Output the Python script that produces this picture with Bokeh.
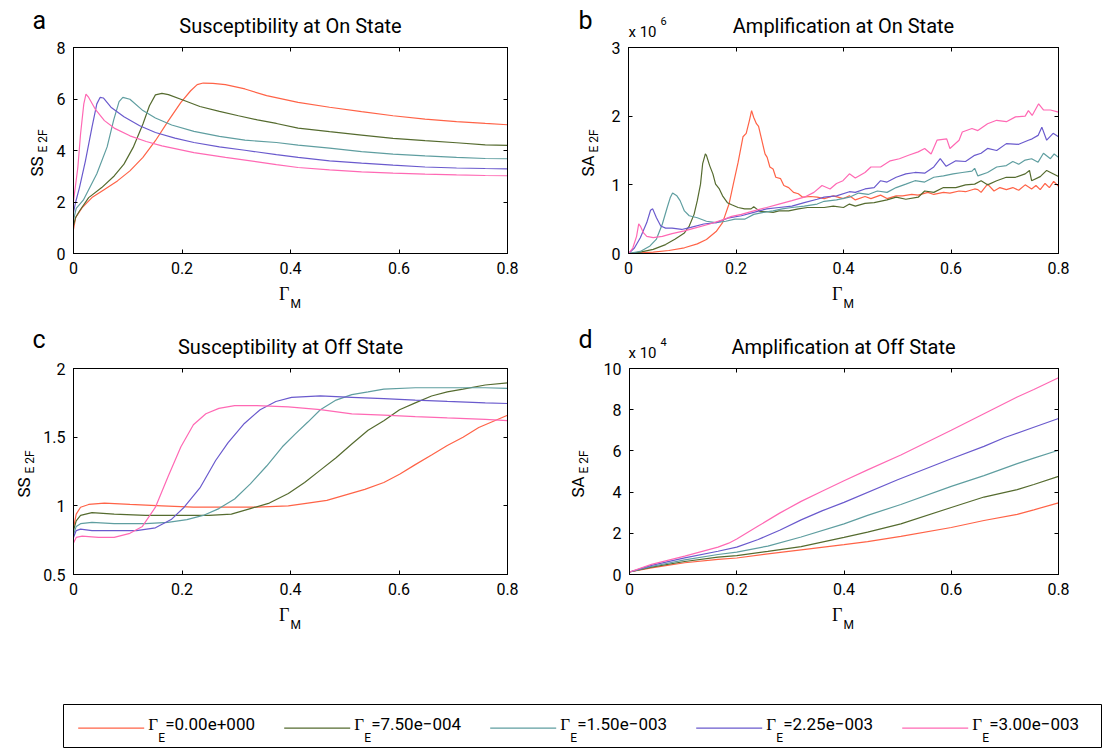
from bokeh.plotting import figure
from bokeh.models import Range1d, LinearAxis, FixedTicker
from bokeh.layouts import column, row
from bokeh.embed import file_html
from bokeh.resources import INLINE
from bokeh.core.properties import value

SANS = "Roboto"
SERIF = "Liberation Serif"

series_colors = ["tomato", "darkolivegreen", "cadetblue", "slateblue", "hotpink"]
gamma_E = [0.0, 7.5e-4, 1.5e-3, 2.25e-3, 3.0e-3]

x_ticks = [0, 0.2, 0.4, 0.6, 0.8]
ss_on_ticks = [0, 2, 4, 6, 8]
sa_on_ticks = [0, 1, 2, 3]
ss_off_ticks = [0.5, 1, 1.5, 2]
sa_off_ticks = [0, 2, 4, 6, 8, 10]

# ---------------- a: Susceptibility at On State ----------------
ss_on_x0 = [0, 0.004, 0.016, 0.034, 0.057, 0.081, 0.104, 0.128, 0.151, 0.175, 0.198, 0.216, 0.228, 0.239, 0.257, 0.28, 0.316, 0.356, 0.414, 0.472, 0.531, 0.589, 0.648, 0.706, 0.759, 0.8]
ss_on_y0 = [0.94, 1.4, 1.78, 2.17, 2.49, 2.82, 3.21, 3.73, 4.38, 5.16, 5.87, 6.32, 6.56, 6.62, 6.61, 6.56, 6.39, 6.13, 5.87, 5.68, 5.51, 5.35, 5.22, 5.12, 5.05, 5.0]
ss_on_x1 = [0, 0.004, 0.011, 0.028, 0.052, 0.075, 0.093, 0.110, 0.128, 0.140, 0.151, 0.163, 0.175, 0.204, 0.233, 0.269, 0.304, 0.339, 0.374, 0.414, 0.472, 0.531, 0.589, 0.648, 0.706, 0.759, 0.8]
ss_on_y1 = [1.09, 1.4, 1.65, 2.17, 2.56, 3.01, 3.47, 4.12, 5.03, 5.74, 6.16, 6.22, 6.17, 5.94, 5.71, 5.52, 5.35, 5.19, 5.05, 4.87, 4.73, 4.6, 4.47, 4.38, 4.3, 4.22, 4.2]
ss_on_x2 = [0, 0.005, 0.018, 0.043, 0.062, 0.074, 0.084, 0.091, 0.104, 0.128, 0.151, 0.181, 0.222, 0.269, 0.316, 0.374, 0.414, 0.472, 0.531, 0.589, 0.648, 0.706, 0.759, 0.8]
ss_on_y2 = [1.3, 1.75, 2.07, 3.1, 4.14, 5.18, 5.9, 6.06, 5.99, 5.55, 5.26, 4.99, 4.74, 4.55, 4.40, 4.31, 4.21, 4.09, 3.96, 3.86, 3.79, 3.73, 3.69, 3.68]
ss_on_x3 = [0, 0.004, 0.011, 0.022, 0.034, 0.043, 0.049, 0.055, 0.069, 0.093, 0.122, 0.151, 0.187, 0.222, 0.269, 0.316, 0.374, 0.414, 0.472, 0.531, 0.589, 0.648, 0.706, 0.759, 0.8]
ss_on_y3 = [1.6, 2.0, 2.56, 3.6, 4.9, 5.81, 6.06, 6.04, 5.68, 5.31, 4.96, 4.70, 4.48, 4.31, 4.14, 4.01, 3.84, 3.73, 3.6, 3.51, 3.43, 3.36, 3.32, 3.30, 3.29]
ss_on_x4 = [0, 0.008, 0.013, 0.019, 0.023, 0.028, 0.040, 0.057, 0.075, 0.104, 0.134, 0.163, 0.222, 0.280, 0.339, 0.374, 0.414, 0.472, 0.531, 0.589, 0.648, 0.706, 0.759, 0.8]
ss_on_y4 = [2.04, 3.34, 4.64, 5.81, 6.19, 6.06, 5.61, 5.16, 4.87, 4.57, 4.35, 4.18, 3.92, 3.73, 3.56, 3.45, 3.34, 3.25, 3.17, 3.12, 3.08, 3.05, 3.03, 3.02]

# ---------------- b: Amplification at On State (x 10^6) ----------------
sa_on_x0 = [0, 0.046, 0.075, 0.104, 0.128, 0.145, 0.163, 0.175, 0.187, 0.195, 0.204, 0.213, 0.219, 0.225, 0.229, 0.233, 0.238, 0.242, 0.248, 0.254, 0.258, 0.263, 0.269, 0.274, 0.283, 0.289, 0.298, 0.307, 0.316, 0.324, 0.339, 0.351, 0.364, 0.381, 0.4, 0.411, 0.422, 0.44, 0.451, 0.469, 0.481, 0.498, 0.51, 0.527, 0.539, 0.557, 0.568, 0.586, 0.598, 0.615, 0.627, 0.644, 0.65, 0.656, 0.668, 0.68, 0.691, 0.703, 0.715, 0.726, 0.738, 0.75, 0.758, 0.766, 0.775, 0.783, 0.791, 0.8]
sa_on_y0 = [0, 0.02, 0.044, 0.083, 0.14, 0.205, 0.32, 0.45, 0.72, 1.01, 1.33, 1.70, 1.75, 1.94, 2.08, 1.98, 1.89, 1.85, 1.65, 1.45, 1.40, 1.26, 1.23, 1.11, 1.09, 0.99, 0.96, 0.89, 0.87, 0.82, 0.83, 0.82, 0.80, 0.84, 0.80, 0.84, 0.78, 0.83, 0.80, 0.85, 0.80, 0.84, 0.84, 0.86, 0.85, 0.89, 0.86, 0.89, 0.88, 0.91, 0.90, 0.94, 0.93, 0.89, 1.01, 0.91, 0.96, 0.93, 0.96, 0.92, 1.00, 0.94, 0.99, 0.93, 1.02, 0.96, 1.05, 0.98]
sa_on_x1 = [0, 0.022, 0.046, 0.069, 0.087, 0.104, 0.113, 0.122, 0.128, 0.134, 0.138, 0.143, 0.145, 0.151, 0.157, 0.162, 0.169, 0.175, 0.184, 0.192, 0.204, 0.216, 0.228, 0.233, 0.245, 0.257, 0.269, 0.28, 0.298, 0.316, 0.333, 0.351, 0.364, 0.381, 0.4, 0.411, 0.422, 0.44, 0.457, 0.481, 0.498, 0.516, 0.539, 0.551, 0.568, 0.586, 0.609, 0.627, 0.644, 0.656, 0.668, 0.685, 0.703, 0.72, 0.738, 0.746, 0.75, 0.766, 0.778, 0.788, 0.8]
sa_on_y1 = [0, 0.02, 0.06, 0.13, 0.21, 0.30, 0.40, 0.57, 0.77, 1.01, 1.31, 1.45, 1.43, 1.28, 1.16, 1.01, 0.94, 0.84, 0.74, 0.71, 0.67, 0.65, 0.65, 0.68, 0.61, 0.61, 0.60, 0.62, 0.62, 0.65, 0.67, 0.67, 0.67, 0.69, 0.67, 0.72, 0.69, 0.73, 0.74, 0.78, 0.82, 0.79, 0.82, 0.91, 0.89, 0.96, 0.96, 1.00, 1.01, 1.06, 1.00, 1.06, 1.11, 1.11, 1.16, 1.21, 1.06, 1.12, 1.21, 1.17, 1.12]
sa_on_x2 = [0, 0.022, 0.040, 0.052, 0.063, 0.072, 0.078, 0.082, 0.090, 0.096, 0.104, 0.113, 0.128, 0.145, 0.163, 0.181, 0.198, 0.216, 0.233, 0.251, 0.269, 0.286, 0.304, 0.327, 0.351, 0.364, 0.387, 0.411, 0.428, 0.446, 0.463, 0.481, 0.498, 0.516, 0.533, 0.551, 0.568, 0.586, 0.604, 0.621, 0.639, 0.644, 0.65, 0.668, 0.685, 0.703, 0.715, 0.726, 0.738, 0.75, 0.762, 0.772, 0.785, 0.792, 0.8]
sa_on_y2 = [0, 0.03, 0.11, 0.21, 0.43, 0.67, 0.82, 0.88, 0.84, 0.77, 0.62, 0.55, 0.52, 0.47, 0.45, 0.47, 0.50, 0.50, 0.57, 0.60, 0.62, 0.65, 0.67, 0.69, 0.72, 0.76, 0.78, 0.82, 0.88, 0.86, 0.91, 0.89, 0.96, 1.01, 1.06, 1.04, 1.11, 1.13, 1.16, 1.18, 1.20, 1.24, 1.13, 1.18, 1.26, 1.28, 1.34, 1.30, 1.36, 1.38, 1.33, 1.46, 1.38, 1.45, 1.40]
sa_on_x3 = [0, 0.011, 0.022, 0.034, 0.041, 0.045, 0.052, 0.060, 0.069, 0.081, 0.099, 0.116, 0.140, 0.163, 0.187, 0.210, 0.233, 0.257, 0.280, 0.304, 0.327, 0.351, 0.364, 0.387, 0.411, 0.422, 0.44, 0.457, 0.469, 0.481, 0.498, 0.516, 0.533, 0.551, 0.568, 0.58, 0.591, 0.609, 0.627, 0.644, 0.656, 0.668, 0.685, 0.703, 0.726, 0.744, 0.751, 0.762, 0.769, 0.778, 0.79, 0.8]
sa_on_y3 = [0, 0.08, 0.23, 0.45, 0.63, 0.65, 0.52, 0.40, 0.37, 0.37, 0.35, 0.38, 0.43, 0.45, 0.52, 0.55, 0.60, 0.65, 0.67, 0.69, 0.74, 0.79, 0.82, 0.84, 0.90, 0.89, 0.94, 0.96, 1.06, 1.04, 1.11, 1.16, 1.18, 1.17, 1.26, 1.38, 1.27, 1.35, 1.34, 1.43, 1.46, 1.53, 1.50, 1.60, 1.59, 1.65, 1.67, 1.72, 1.84, 1.65, 1.75, 1.70]
sa_on_x4 = [0, 0.008, 0.015, 0.019, 0.022, 0.028, 0.034, 0.046, 0.063, 0.081, 0.104, 0.128, 0.151, 0.175, 0.192, 0.210, 0.233, 0.257, 0.280, 0.304, 0.327, 0.345, 0.360, 0.375, 0.387, 0.399, 0.411, 0.422, 0.44, 0.451, 0.469, 0.487, 0.504, 0.521, 0.539, 0.551, 0.563, 0.574, 0.592, 0.598, 0.615, 0.621, 0.639, 0.65, 0.668, 0.685, 0.703, 0.72, 0.738, 0.744, 0.751, 0.763, 0.772, 0.785, 0.8]
sa_on_y4 = [0, 0.08, 0.25, 0.43, 0.40, 0.30, 0.25, 0.23, 0.25, 0.29, 0.33, 0.38, 0.43, 0.49, 0.54, 0.57, 0.62, 0.67, 0.72, 0.77, 0.82, 0.89, 0.99, 0.94, 1.02, 1.06, 1.16, 1.10, 1.18, 1.26, 1.26, 1.35, 1.38, 1.43, 1.48, 1.53, 1.45, 1.65, 1.67, 1.53, 1.65, 1.77, 1.82, 1.79, 1.89, 1.94, 1.92, 1.99, 2.00, 2.08, 2.01, 2.18, 2.09, 2.09, 2.06]

# ---------------- c: Susceptibility at Off State ----------------
ss_off_x0 = [0, 0.005, 0.013, 0.028, 0.057, 0.104, 0.163, 0.221, 0.280, 0.338, 0.396, 0.432, 0.467, 0.502, 0.537, 0.572, 0.601, 0.630, 0.660, 0.689, 0.718, 0.747, 0.8]
ss_off_y0 = [0.84, 0.94, 0.99, 1.01, 1.02, 1.01, 1.0, 0.99, 0.99, 0.99, 1.0, 1.02, 1.04, 1.08, 1.12, 1.17, 1.23, 1.30, 1.37, 1.44, 1.50, 1.57, 1.66]
ss_off_x1 = [0, 0.005, 0.013, 0.034, 0.075, 0.133, 0.192, 0.250, 0.291, 0.326, 0.361, 0.396, 0.426, 0.455, 0.484, 0.513, 0.543, 0.572, 0.601, 0.630, 0.660, 0.689, 0.718, 0.759, 0.8]
ss_off_y1 = [0.82, 0.89, 0.93, 0.95, 0.94, 0.93, 0.93, 0.93, 0.94, 0.98, 1.02, 1.09, 1.17, 1.26, 1.35, 1.45, 1.55, 1.62, 1.70, 1.75, 1.80, 1.83, 1.85, 1.88, 1.895]
ss_off_x2 = [0, 0.005, 0.013, 0.034, 0.075, 0.133, 0.174, 0.209, 0.239, 0.268, 0.297, 0.326, 0.356, 0.385, 0.408, 0.432, 0.455, 0.484, 0.513, 0.543, 0.572, 0.630, 0.689, 0.759, 0.8]
ss_off_y2 = [0.79, 0.85, 0.87, 0.88, 0.87, 0.87, 0.88, 0.90, 0.93, 0.98, 1.05, 1.16, 1.29, 1.43, 1.52, 1.61, 1.70, 1.77, 1.81, 1.83, 1.85, 1.86, 1.86, 1.86, 1.855]
ss_off_x3 = [0, 0.005, 0.013, 0.034, 0.075, 0.116, 0.151, 0.180, 0.204, 0.233, 0.262, 0.285, 0.315, 0.344, 0.373, 0.402, 0.455, 0.513, 0.572, 0.630, 0.689, 0.759, 0.8]
ss_off_y3 = [0.77, 0.82, 0.83, 0.82, 0.82, 0.82, 0.84, 0.90, 0.99, 1.13, 1.33, 1.46, 1.60, 1.70, 1.76, 1.79, 1.80, 1.79, 1.78, 1.77, 1.76, 1.75, 1.745]
ss_off_x4 = [0, 0.005, 0.016, 0.046, 0.075, 0.104, 0.127, 0.151, 0.174, 0.198, 0.221, 0.244, 0.268, 0.297, 0.338, 0.396, 0.455, 0.513, 0.572, 0.630, 0.689, 0.759, 0.8]
ss_off_y4 = [0.73, 0.77, 0.78, 0.77, 0.77, 0.80, 0.85, 0.99, 1.21, 1.43, 1.59, 1.67, 1.71, 1.73, 1.73, 1.72, 1.70, 1.67, 1.66, 1.65, 1.64, 1.63, 1.62]

# ---------------- d: Amplification at Off State (x 10^4) ----------------
sa_off_x0 = [0, 0.041, 0.103, 0.165, 0.2, 0.258, 0.320, 0.4, 0.444, 0.506, 0.6, 0.661, 0.723, 0.754, 0.8]
sa_off_y0 = [0.12, 0.32, 0.57, 0.73, 0.80, 1.0, 1.2, 1.45, 1.6, 1.85, 2.28, 2.62, 2.92, 3.14, 3.48]
sa_off_x1 = [0, 0.041, 0.103, 0.165, 0.2, 0.258, 0.320, 0.4, 0.444, 0.506, 0.6, 0.661, 0.723, 0.754, 0.8]
sa_off_y1 = [0.12, 0.36, 0.63, 0.84, 0.92, 1.12, 1.35, 1.8, 2.06, 2.46, 3.25, 3.76, 4.12, 4.37, 4.76]
sa_off_x2 = [0, 0.041, 0.103, 0.165, 0.2, 0.258, 0.320, 0.4, 0.444, 0.506, 0.6, 0.661, 0.723, 0.754, 0.8]
sa_off_y2 = [0.12, 0.39, 0.71, 0.97, 1.09, 1.38, 1.82, 2.46, 2.87, 3.40, 4.28, 4.8, 5.38, 5.65, 6.03]
sa_off_x3 = [0, 0.041, 0.103, 0.165, 0.2, 0.24, 0.28, 0.32, 0.36, 0.4, 0.5, 0.6, 0.661, 0.7, 0.754, 0.8]
sa_off_y3 = [0.12, 0.44, 0.81, 1.13, 1.33, 1.7, 2.15, 2.65, 3.1, 3.5, 4.6, 5.62, 6.22, 6.65, 7.15, 7.57]
sa_off_x4 = [0, 0.041, 0.103, 0.165, 0.185, 0.2, 0.24, 0.28, 0.32, 0.36, 0.4, 0.444, 0.506, 0.6, 0.661, 0.723, 0.754, 0.8]
sa_off_y4 = [0.12, 0.49, 0.89, 1.33, 1.52, 1.72, 2.35, 2.98, 3.55, 4.05, 4.55, 5.08, 5.8, 7.0, 7.8, 8.62, 8.98, 9.55]

# ---------------- layout (page pixels) ----------------
TOTAL_W = 1102
FR_A = (73, 507, 47, 253)     # left, right, top, bottom of plot frames
FR_B = (628, 1058, 47, 253)
FR_C = (73, 507, 368, 574)
FR_D = (628, 1058, 368, 574)
ROW1 = (40, 283)
ROW2 = (361, 604)
TICK_PX = "16px"
MID_SHIFT = 0.34   # glyph text: baseline sits this many ems below the anchor


def key(t):
    return int(t) if float(t).is_integer() else t


def add_axis(p, side, ticks, show):
    ax = LinearAxis(ticker=FixedTicker(ticks=ticks))
    ax.axis_line_color = "black"
    ax.major_tick_line_color = "black"
    ax.major_tick_in = 4
    ax.major_tick_out = 0
    ax.minor_tick_line_color = None
    if show:
        ax.major_label_overrides = {key(t): f"{t:g}" for t in ticks}
        ax.major_label_standoff = 8
        ax.major_label_text_font = SANS
        ax.major_label_text_font_size = TICK_PX
        ax.major_label_text_color = "black"
    else:
        ax.major_label_overrides = {key(t): "" for t in ticks}
        ax.major_label_standoff = 0
        ax.major_label_text_font_size = "0px"
        ax.major_label_text_color = None
    p.add_layout(ax, side)


def panel(x0, x1, rowy, fr, yticks, xs_list, ys_list):
    ylo, yhi = yticks[0], yticks[-1]
    p = figure(width=x1 - x0, height=rowy[1] - rowy[0],
               x_range=Range1d(0, 0.8), y_range=Range1d(ylo, yhi),
               x_axis_type=None, y_axis_type=None, output_backend="svg",
               toolbar_location=None,
               min_border_left=fr[0] - x0, min_border_right=x1 - fr[1],
               min_border_top=fr[2] - rowy[0], min_border_bottom=rowy[1] - fr[3])
    p.outline_line_color = "black"
    p.outline_line_width = 1
    for xs, ys, c in zip(xs_list, ys_list, series_colors):
        n = min(len(xs), len(ys))
        p.line(xs[:n], ys[:n], line_color=c, line_width=1.2)
    add_axis(p, "below", x_ticks, True)
    add_axis(p, "above", x_ticks, False)
    add_axis(p, "left", yticks, True)
    add_axis(p, "right", yticks, False)
    return p


def strip(x0, x1, y0, y1, bt=0, bb=0):
    # a figure without axes whose data coordinates are page pixels (y negated);
    # bt/bb are borders matching the neighbouring panels in the same row
    s = figure(width=x1 - x0, height=y1 - y0,
               x_range=Range1d(x0, x1), y_range=Range1d(-(y1 - bb), -(y0 + bt)),
               x_axis_type=None, y_axis_type=None, output_backend="svg", toolbar_location=None,
               min_border_left=0, min_border_right=0, min_border_top=bt, min_border_bottom=bb)
    s.outline_line_color = None
    return s


def txt(s, x, y, t, size, font=SANS, align="left", rotated=False):
    # (x, y): wanted baseline start in page pixels
    if rotated:
        ax, ay, ang = x - MID_SHIFT * size, y, 1.5707963267948966
    else:
        ax, ay, ang = x, y - MID_SHIFT * size, 0.0
    s.text(x=[ax], y=[-ay], text=[t], text_font=value(font), text_font_size=f"{size}px",
           text_align=align, text_baseline="alphabetic", text_color="black", angle=ang)


def header(s, fr, letter, title, expo, letter_dy):
    cx = (fr[0] + fr[1]) / 2
    txt(s, cx, fr[2] - 15, title, 20, align="center")
    txt(s, fr[0] - 41 if fr[0] < 300 else fr[0] - 50, fr[2] - letter_dy, letter, 25)
    if expo is not None:
        txt(s, fr[0], fr[2] - 10, "x 10", 15)
        txt(s, fr[0] + 32, fr[2] - 23, expo, 11)


def xlabel(s, fr):
    cx = (fr[0] + fr[1]) / 2
    txt(s, cx - 1, fr[3] + 47, "\u0393", 18, font=SERIF, align="right")
    txt(s, cx, fr[3] + 55, "M", 12)


def ylabel(s, fr, main, dx):
    txt(s, fr[0] + dx, fr[3] - 77, main, 17, rotated=True)
    txt(s, fr[0] + dx + 5, fr[3] - 101, "E 2F", 12, rotated=True)


# header strip above row 1
h1 = strip(0, TOTAL_W, 0, ROW1[0])
header(h1, FR_A, "a", "Susceptibility at On State", None, 19)
header(h1, FR_B, "b", "Amplification at On State", "6", 19)

# row 1
bt1, bb1 = FR_A[2] - ROW1[0], ROW1[1] - FR_A[3]
yl_a = strip(0, 50, ROW1[0], ROW1[1], bt1, bb1)
ylabel(yl_a, FR_A, "SS", -31)
pa = panel(50, 560, ROW1, FR_A, ss_on_ticks,
           [ss_on_x0, ss_on_x1, ss_on_x2, ss_on_x3, ss_on_x4],
           [ss_on_y0, ss_on_y1, ss_on_y2, ss_on_y3, ss_on_y4])
yl_b = strip(560, 608, ROW1[0], ROW1[1], bt1, bb1)
ylabel(yl_b, FR_B, "SA", -35)
pb = panel(608, TOTAL_W, ROW1, FR_B, sa_on_ticks,
           [sa_on_x0, sa_on_x1, sa_on_x2, sa_on_x3, sa_on_x4],
           [sa_on_y0, sa_on_y1, sa_on_y2, sa_on_y3, sa_on_y4])

# middle strip: x labels of row 1 and headers of row 2
mid = strip(0, TOTAL_W, ROW1[1], ROW2[0])
xlabel(mid, FR_A)
xlabel(mid, FR_B)
header(mid, FR_C, "c", "Susceptibility at Off State", None, 21)
header(mid, FR_D, "d", "Amplification at Off State", "4", 21)

# row 2
bt2, bb2 = FR_C[2] - ROW2[0], ROW2[1] - FR_C[3]
yl_c = strip(0, 40, ROW2[0], ROW2[1], bt2, bb2)
ylabel(yl_c, FR_C, "SS", -44)
pc = panel(40, 560, ROW2, FR_C, ss_off_ticks,
           [ss_off_x0, ss_off_x1, ss_off_x2, ss_off_x3, ss_off_x4],
           [ss_off_y0, ss_off_y1, ss_off_y2, ss_off_y3, ss_off_y4])
yl_d = strip(560, 600, ROW2[0], ROW2[1], bt2, bb2)
ylabel(yl_d, FR_D, "SA", -45)
pd = panel(600, TOTAL_W, ROW2, FR_D, sa_off_ticks,
           [sa_off_x0, sa_off_x1, sa_off_x2, sa_off_x3, sa_off_x4],
           [sa_off_y0, sa_off_y1, sa_off_y2, sa_off_y3, sa_off_y4])

# bottom strip: x labels of row 2
bot = strip(0, TOTAL_W, ROW2[1], 650)
xlabel(bot, FR_C)
xlabel(bot, FR_D)


def matlab_e(v):
    m, e = f"{v:.2e}".split("e")
    ex = int(e)
    sign = "+" if ex >= 0 else "\u2212"
    return f"={m}e{sign}{abs(ex):03d}"


# ---------------- legend ----------------
LEG_L, LEG_R, LEG_T, LEG_B = 63, 1101, 704, 747
leg = strip(0, TOTAL_W, 650, 748)
leg.quad(left=[LEG_L], right=[LEG_R], top=[-LEG_T], bottom=[-LEG_B],
         fill_color=None, line_color="black", line_width=1)
n = len(gamma_E)
starts = [77.7 + 206 * i for i in range(n)]
line_y = LEG_T + 23.6
leg.segment(x0=starts, y0=[-line_y] * n, x1=[s + 66 for s in starts], y1=[-line_y] * n,
            line_color=series_colors, line_width=1.2)
for s0, lab in zip(starts, [matlab_e(g) for g in gamma_E]):
    txt(leg, s0 + 70, LEG_T + 25.5, "\u0393", 17, font=SERIF)
    txt(leg, s0 + 80, LEG_T + 38, "E", 12)
    txt(leg, s0 + 87, LEG_T + 25.5, lab, 17)

layout = column(h1, row(yl_a, pa, yl_b, pb), mid, row(yl_c, pc, yl_d, pd), bot, leg)
open("out.html", "w").write(file_html(layout, INLINE))
